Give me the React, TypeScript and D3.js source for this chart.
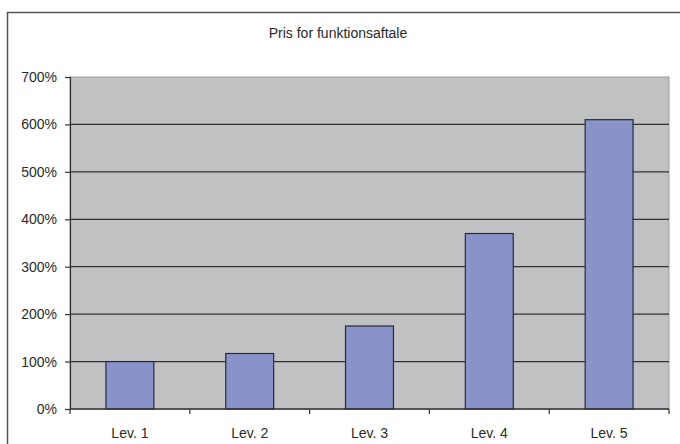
import React, { useRef, useEffect } from "react";
import * as d3 from "d3";

const categories = ["Lev. 1", "Lev. 2", "Lev. 3", "Lev. 4", "Lev. 5"];
const values = [100, 117, 175, 370, 610];
const yTicks = [0, 100, 200, 300, 400, 500, 600, 700];
const title = "Pris for funktionsaftale";

const W = 680;
const H = 444;

const App = () => {
  const svgRef = useRef<SVGSVGElement>(null);

  useEffect(() => {
    const svg = d3.select(svgRef.current);
    svg.selectAll("*").remove();

    const plot = { left: 70, right: 669, top: 77, bottom: 409 };
    const font = "Liberation Sans, Arial, sans-serif";

    // outer chart border
    svg
      .append("rect")
      .attr("x", 7.5)
      .attr("y", 12.5)
      .attr("width", W)
      .attr("height", H)
      .attr("fill", "#ffffff")
      .attr("stroke", "#555")
      .attr("stroke-width", 1.5);

    svg
      .append("text")
      .attr("x", 338)
      .attr("y", 38)
      .attr("text-anchor", "middle")
      .attr("font-family", font)
      .attr("font-size", 14)
      .attr("fill", "#2a2a2a")
      .text(title);

    const x = d3
      .scaleBand()
      .domain(categories)
      .range([plot.left, plot.right])
      .paddingInner(0.6)
      .paddingOuter(0.3);

    const y = d3.scaleLinear().domain([0, 700]).range([plot.bottom, plot.top]);

    // plot area
    svg
      .append("rect")
      .attr("x", plot.left)
      .attr("y", plot.top)
      .attr("width", plot.right - plot.left)
      .attr("height", plot.bottom - plot.top)
      .attr("fill", "#bfc1c2")
      .attr("stroke", "#9a9a9a")
      .attr("stroke-width", 1);

    // gridlines
    svg
      .selectAll(".grid")
      .data(yTicks.slice(1, -1))
      .join("line")
      .attr("class", "grid")
      .attr("x1", plot.left)
      .attr("x2", plot.right)
      .attr("y1", (d) => y(d))
      .attr("y2", (d) => y(d))
      .attr("stroke", "#333")
      .attr("stroke-width", 1.2);

    // bars
    svg
      .selectAll(".bar")
      .data(values)
      .join("rect")
      .attr("class", "bar")
      .attr("x", (d, i) => x(categories[i])!)
      .attr("y", (d) => y(d))
      .attr("width", x.bandwidth())
      .attr("height", (d) => y(0) - y(d))
      .attr("fill", "#8a92ca")
      .attr("stroke", "#2a2a3a")
      .attr("stroke-width", 1.2);

    // y axis
    const yAxis = svg
      .append("g")
      .attr("transform", `translate(${plot.left},0)`)
      .call(
        d3
          .axisLeft(y)
          .tickValues(yTicks)
          .tickSize(5)
          .tickPadding(8)
          .tickFormat((d) => `${d}%`)
      );
    yAxis.select(".domain").attr("stroke", "#333").attr("stroke-width", 1.2);
    yAxis.selectAll(".tick line").attr("stroke", "#333").attr("stroke-width", 1.2);
    yAxis
      .selectAll(".tick text")
      .attr("font-family", font)
      .attr("font-size", 14)
      .attr("fill", "#2a2a2a");

    // x axis with ticks at category boundaries
    const step = (plot.right - plot.left) / categories.length;
    const boundaries = d3.range(categories.length + 1).map((i) => plot.left + i * step);
    svg
      .append("line")
      .attr("x1", plot.left)
      .attr("x2", plot.right)
      .attr("y1", plot.bottom)
      .attr("y2", plot.bottom)
      .attr("stroke", "#333")
      .attr("stroke-width", 1.4);
    svg
      .selectAll(".xtick")
      .data(boundaries)
      .join("line")
      .attr("class", "xtick")
      .attr("x1", (d) => d)
      .attr("x2", (d) => d)
      .attr("y1", plot.bottom)
      .attr("y2", plot.bottom + 5)
      .attr("stroke", "#333")
      .attr("stroke-width", 1.2);
    svg
      .selectAll(".xlabel")
      .data(categories)
      .join("text")
      .attr("class", "xlabel")
      .attr("x", (d) => x(d)! + x.bandwidth() / 2)
      .attr("y", 438)
      .attr("text-anchor", "middle")
      .attr("font-family", font)
      .attr("font-size", 14)
      .attr("fill", "#2a2a2a")
      .text((d) => d);
  }, []);

  return (
    <svg
      ref={svgRef}
      width={W}
      height={H}
      style={{ position: "absolute", left: 0, top: 0, background: "#fff" }}
    />
  );
};

export default App;
